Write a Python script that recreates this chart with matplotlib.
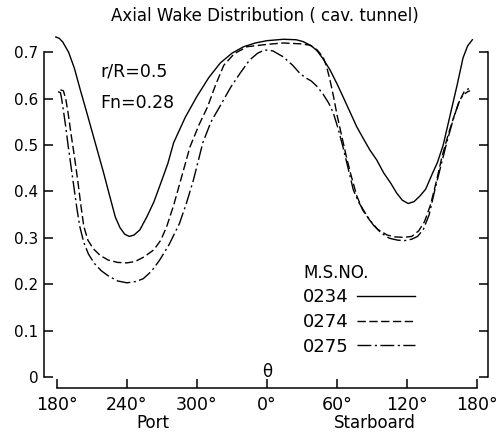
import matplotlib
matplotlib.use("Agg")
import matplotlib.pyplot as plt

# angle: port side negative (180..360 deg -> -180..0), starboard positive
theta_0234 = [-181, -178, -175, -170, -165, -160, -155, -150, -145, -140, -135, -130,
              -126, -122, -118, -114, -109, -103, -97, -90, -85, -80, -70, -60, -50,
              -40, -30, -20, -10, 0, 14, 25, 31, 38, 43, 48, 54, 60, 65, 71, 77, 83,
              88, 94, 100, 106, 111, 116, 121, 126, 131, 136, 142, 146, 151, 157,
              163, 168, 172, 176]
wake_0234 = [0.733, 0.730, 0.722, 0.700, 0.665, 0.619, 0.575, 0.530, 0.485, 0.440,
             0.392, 0.345, 0.322, 0.308, 0.303, 0.306, 0.317, 0.345, 0.377, 0.425,
             0.460, 0.505, 0.560, 0.605, 0.645, 0.677, 0.698, 0.712, 0.720, 0.725,
             0.728, 0.727, 0.723, 0.714, 0.703, 0.686, 0.662, 0.632, 0.605, 0.572,
             0.539, 0.512, 0.490, 0.468, 0.440, 0.418, 0.397, 0.381, 0.374, 0.378,
             0.390, 0.405, 0.440, 0.462, 0.500, 0.565, 0.630, 0.688, 0.714, 0.727]

theta_0274 = [-177, -174.5, -172.5, -170.5, -168, -165, -162, -159.5, -157, -153.5, -149,
              -143, -136, -128, -120, -113, -106, -97, -91, -86, -80, -75, -66, -58,
              -51, -44, -37, -28, -17, 0, 14, 30, 37, 43, 48, 51, 54, 57, 60, 64, 68,
              72, 77, 82, 88, 95, 103, 110, 117, 124, 130, 135, 140, 145, 150, 155,
              160, 165, 169, 173]
wake_0274 = [0.619, 0.617, 0.600, 0.570, 0.525, 0.475, 0.420, 0.370, 0.325, 0.295,
             0.277, 0.262, 0.252, 0.247, 0.246, 0.249, 0.258, 0.274, 0.295,
             0.324, 0.370, 0.415, 0.496, 0.545, 0.582, 0.630, 0.672, 0.697, 0.712,
             0.717, 0.720, 0.718, 0.715, 0.705, 0.690, 0.670, 0.640, 0.605, 0.565,
             0.520, 0.475, 0.435, 0.390, 0.360, 0.338, 0.318, 0.306, 0.302, 0.301,
             0.303, 0.315, 0.335, 0.370, 0.420, 0.475, 0.520, 0.560, 0.595, 0.615,
             0.622]

theta_0275 = [-179, -177, -176, -174.5, -172.5, -170.5, -168, -165.5, -163, -160.5, -157,
              -153, -148, -142, -136, -128, -120, -112, -106, -99, -92, -84, -75, -69,
              -63, -55, -48, -40, -31, -23, -15, -8, -2, 5, 14, 22, 28, 33, 38, 43,
              48, 53, 57, 61, 65, 70, 74, 79, 85, 91, 98, 105, 112, 118, 124, 129,
              134, 139, 144, 149, 154, 159, 164, 168, 172, 174]
wake_0275 = [0.615, 0.613, 0.600, 0.575, 0.540, 0.500, 0.455, 0.410, 0.365, 0.325,
             0.290, 0.265, 0.245, 0.229, 0.218, 0.207, 0.203, 0.206, 0.212, 0.228,
             0.252, 0.285, 0.331, 0.375, 0.425, 0.505, 0.550, 0.585, 0.625, 0.655,
             0.683, 0.698, 0.705, 0.703, 0.690, 0.672, 0.655, 0.645, 0.638, 0.626,
             0.610, 0.590, 0.568, 0.535, 0.497, 0.445, 0.403, 0.375, 0.350, 0.328,
             0.310, 0.299, 0.295, 0.294, 0.297, 0.303, 0.318, 0.350, 0.405, 0.455,
             0.505, 0.550, 0.590, 0.608, 0.615, 0.617]

x_ticks = [-180, -120, -60, 0, 60, 120, 180]
x_labels = ["180°", "240°", "300°", "0°", "60°", "120°", "180°"]
y_ticks = [0, 0.1, 0.2, 0.3, 0.4, 0.5, 0.6, 0.7]
y_labels = ["0", "0.1", "0.2", "0.3", "0.4", "0.5", "0.6", "0.7"]

W, H = 503, 448
fig = plt.figure(figsize=(W / 100, H / 100), dpi=100)
ax = fig.add_axes([44 / W, (H - 388) / H, 444 / W, 358 / H])
ax.set_xlim(-191.1, 189.4)
ax.set_ylim(-0.0237, 0.748)

lw = 1.0
l1, = ax.plot(theta_0234, wake_0234, color="black", lw=lw)
l2, = ax.plot(theta_0274, wake_0274, color="black", lw=lw, dashes=(6, 2.5))
l3, = ax.plot(theta_0275, wake_0275, color="black", lw=lw, dashes=(10, 2.5, 1.5, 2.5))

ax.spines["top"].set_visible(False)
for s in ["left", "right", "bottom"]:
    ax.spines[s].set_linewidth(1.1)
ax.spines["left"].set_bounds(0, 0.7)
ax.spines["right"].set_bounds(0, 0.7)
ax.spines["bottom"].set_bounds(-180, 180)

ax.set_xticks(x_ticks)
ax.set_xticklabels(x_labels, fontsize=12.5)
ax.set_yticks(y_ticks)
ax.set_yticklabels(y_labels, fontsize=11)
ax.tick_params(direction="in", length=6.5, width=1.1, right=True, labelright=False)
ax.tick_params(axis="x", pad=6)
ax.tick_params(axis="y", pad=4)

ax.text(0, 0.011, "θ", fontsize=12, ha="center", va="center")
ax.text(-143, 0.659, "r/R=0.5", fontsize=12.5, ha="left", va="center")
ax.text(-143, 0.590, "Fn=0.28", fontsize=12.5, ha="left", va="center")

fig.text(265 / W, 1 - 16 / H, "Axial Wake Distribution ( cav. tunnel)",
         fontsize=12, ha="center", va="center")
fig.text(153 / W, 1 - 423 / H, "Port", fontsize=12, ha="center", va="center")
fig.text(375 / W, 1 - 423 / H, "Starboard", fontsize=12, ha="center", va="center")

ax.legend([l1, l2, l3], ["0234", "0274", "0275"], title="M.S.NO.",
          loc="upper left", bbox_to_anchor=(303 / W, 1 - 264 / H),
          bbox_transform=fig.transFigure, frameon=False, markerfirst=False,
          fontsize=13, title_fontsize=12, alignment="left", handlelength=3.2,
          handletextpad=0.45, labelspacing=0.36, borderpad=0, borderaxespad=0)

fig.savefig("out.png", dpi=100, facecolor="white")
